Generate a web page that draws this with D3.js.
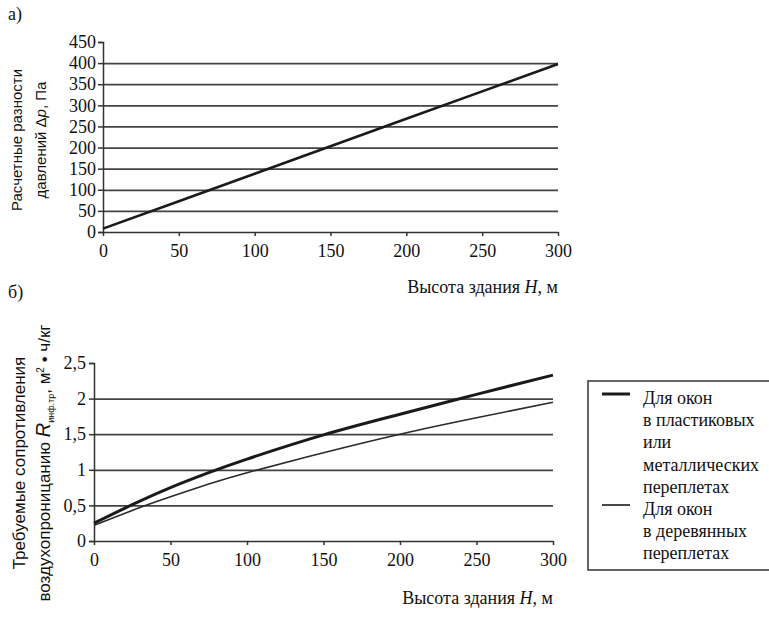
<!DOCTYPE html>
<html>
<head>
<meta charset="utf-8">
<script src="https://cdn.jsdelivr.net/npm/d3@7"></script>
<style>
  body { margin: 0; background: #fff; }
  svg { display: block; }
  .axis text { font-family: "Liberation Serif", "Times New Roman", "DejaVu Serif", serif; font-size: 18px; fill: #111; }
  .axis path, .axis line { stroke: #333; stroke-width: 1.5; }
  .grid line { stroke: #444; stroke-width: 1.8; }
  .grid path { display: none; }
  .serif { font-family: "Liberation Serif", "Times New Roman", "DejaVu Serif", serif; fill: #111; }
  .sans { font-family: "Liberation Sans", Arial, sans-serif; fill: #111; }
</style>
</head>
<body>
<svg id="chart"></svg>
<script>
// chart a) pressure difference vs building height
const heightsA = [0, 50, 100, 150, 200, 250, 300]
const pressure = [8, 73, 138, 203, 268, 333, 398]
const ticksYA = [0, 50, 100, 150, 200, 250, 300, 350, 400, 450]
const gridA = [50, 100, 150, 200, 250, 300, 350, 400]

// chart b) required air permeation resistance
const heightsB = [0, 25, 50, 75, 100, 150, 200, 250, 300]
const plastic = [0.25, 0.51, 0.75, 0.96, 1.15, 1.49, 1.78, 2.06, 2.33]
const wooden = [0.22, 0.43, 0.62, 0.8, 0.96, 1.24, 1.5, 1.73, 1.95]
const ticksYB = [0, 0.5, 1, 1.5, 2, 2.5]
const gridB = [0.5, 1, 1.5, 2]
const ticksX = [0, 50, 100, 150, 200, 250, 300]

const legendLines = [
  ['Для окон', 'в пластиковых', 'или', 'металлических', 'переплетах'],
  ['Для окон', 'в деревянных', 'переплетах']
]

const svg = d3.select('#chart').attr('width', 769).attr('height', 618)
const comma = d => String(d).replace('.', ',')
const serifFont = '"Liberation Serif", "Times New Roman", "DejaVu Serif", serif'

// ---- chart a
const xA = d3.scaleLinear().domain([0, 300]).range([103, 558])
const yA = d3.scaleLinear().domain([0, 450]).range([232, 42])

svg.append('g').attr('class', 'grid')
  .attr('transform', 'translate(103,0)')
  .call(d3.axisRight(yA).tickValues(gridA).tickSize(455).tickFormat(''))

svg.append('g').attr('class', 'axis')
  .attr('transform', 'translate(103,0)')
  .call(d3.axisLeft(yA).tickValues(ticksYA).tickSize(5).tickPadding(2))
  .attr('font-family', serifFont).attr('font-size', 18)

svg.append('g').attr('class', 'axis')
  .attr('transform', 'translate(0,232)')
  .call(d3.axisBottom(xA).tickValues(ticksX).tickSize(4).tickPadding(8).tickSizeOuter(0))
  .attr('font-family', serifFont).attr('font-size', 18)

svg.append('path')
  .datum(heightsA.map((h, i) => [h, pressure[i]]))
  .attr('fill', 'none').attr('stroke', '#1a1a1a').attr('stroke-width', 2.6)
  .attr('d', d3.line().x(d => xA(d[0])).y(d => yA(d[1])))

svg.append('text').attr('class', 'serif').attr('x', 8).attr('y', 20)
  .attr('font-family', serifFont).style('font-size', '18px').text('а)')

svg.append('text').attr('class', 'serif').attr('x', 558).attr('y', 293)
  .attr('font-family', serifFont)
  .attr('text-anchor', 'end').style('font-size', '18px')
  .call(t => {
    t.append('tspan').text('Высота здания ')
    t.append('tspan').style('font-style', 'italic').text('H')
    t.append('tspan').text(', м')
  })

const labA = svg.append('g').attr('transform', 'translate(0,140) rotate(-90)')
labA.append('text').attr('class', 'sans').attr('x', 0).attr('y', 22)
  .attr('text-anchor', 'middle').style('font-size', '15px').text('Расчетные разности')
labA.append('text').attr('class', 'sans').attr('x', 0).attr('y', 46)
  .attr('text-anchor', 'middle').style('font-size', '15px')
  .call(t => {
    t.append('tspan').text('давлений Δ')
    t.append('tspan').style('font-style', 'italic').text('p')
    t.append('tspan').text(', Па')
  })

// ---- chart b
const xB = d3.scaleLinear().domain([0, 300]).range([94, 553])
const yB = d3.scaleLinear().domain([0, 2.5]).range([541, 363])

svg.append('g').attr('class', 'grid')
  .attr('transform', 'translate(94,0)')
  .call(d3.axisRight(yB).tickValues(gridB).tickSize(459).tickFormat(''))

svg.append('g').attr('class', 'axis')
  .attr('transform', 'translate(94,0)')
  .call(d3.axisLeft(yB).tickValues(ticksYB).tickSize(5).tickPadding(3).tickFormat(comma))
  .attr('font-family', serifFont).attr('font-size', 18)

svg.append('g').attr('class', 'axis')
  .attr('transform', 'translate(0,541)')
  .call(d3.axisBottom(xB).tickValues(ticksX).tickSize(4).tickPadding(8).tickSizeOuter(0))
  .attr('font-family', serifFont).attr('font-size', 18)

const lineB = d3.line().curve(d3.curveNatural).x(d => xB(d[0])).y(d => yB(d[1]))
svg.append('path')
  .datum(heightsB.map((h, i) => [h, plastic[i]]))
  .attr('fill', 'none').attr('stroke', '#1a1a1a').attr('stroke-width', 3)
  .attr('d', lineB)
svg.append('path')
  .datum(heightsB.map((h, i) => [h, wooden[i]]))
  .attr('fill', 'none').attr('stroke', '#2a2a2a').attr('stroke-width', 1.6)
  .attr('d', lineB)

svg.append('text').attr('class', 'serif').attr('x', 8).attr('y', 298)
  .attr('font-family', serifFont).style('font-size', '18px').text('б)')

svg.append('text').attr('class', 'serif').attr('x', 553).attr('y', 604)
  .attr('font-family', serifFont)
  .attr('text-anchor', 'end').style('font-size', '18px')
  .call(t => {
    t.append('tspan').text('Высота здания ')
    t.append('tspan').style('font-style', 'italic').text('H')
    t.append('tspan').text(', м')
  })

const labB = svg.append('g').attr('transform', 'translate(0,463) rotate(-90)')
labB.append('text').attr('class', 'sans').attr('x', 0).attr('y', 25)
  .attr('text-anchor', 'middle').style('font-size', '17px').text('Требуемые сопротивления')
labB.append('text').attr('class', 'sans').attr('x', 0).attr('y', 50)
  .attr('text-anchor', 'middle').style('font-size', '17px')
  .call(t => {
    t.append('tspan').text('воздухопроницанию ')
    t.append('tspan').style('font-style', 'italic').style('font-size', '20px').text('R')
    t.append('tspan').attr('dy', 4).style('font-size', '9px').text('инф.тр')
    t.append('tspan').attr('dy', -4).text(', м')
    t.append('tspan').attr('dy', -6).style('font-size', '10px').text('2')
    t.append('tspan').attr('dy', 6).text(' • ч/кг')
  })

// ---- legend: box is open on the right, cut by the picture edge
const legend = svg.append('g')
legend.append('path')
  .attr('d', 'M769,381H588V570H769')
  .attr('fill', 'none').attr('stroke', '#333').attr('stroke-width', 1.5)

const lineH = 22.2
let row = 0
legendLines.forEach((lines, i) => {
  const y0 = 404 + row * lineH
  legend.append('line')
    .attr('x1', 602).attr('x2', 630).attr('y1', y0 - 10).attr('y2', y0 - 10)
    .attr('stroke', '#1a1a1a').attr('stroke-width', i === 0 ? 3 : 1.6)
  lines.forEach((s, j) => {
    legend.append('text').attr('class', 'serif')
      .attr('font-family', serifFont)
      .attr('x', 643).attr('y', y0 + j * lineH)
      .style('font-size', '18px').text(s)
  })
  row += lines.length
})
</script>
</body>
</html>
